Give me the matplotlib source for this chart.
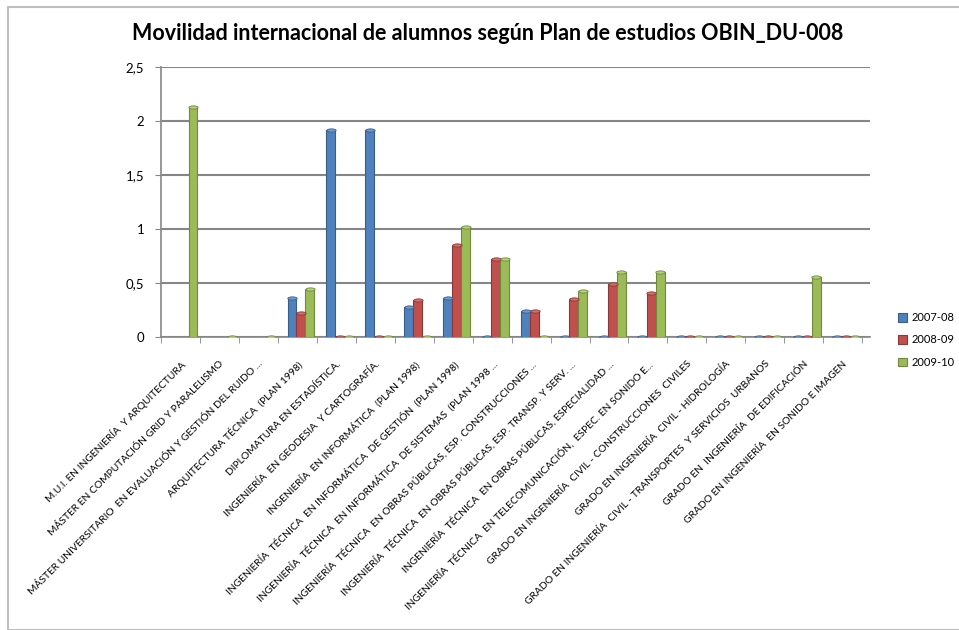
import matplotlib.pyplot as plt
import numpy as np
from matplotlib.path import Path
from matplotlib.patches import Rectangle

plt.rcParams['font.family'] = ['Lato', 'DejaVu Sans']

categories = [
    'M.U.I. EN INGENIERÍA  Y ARQUITECTURA',
    'MÁSTER EN COMPUTACIÓN GRID Y PARALELISMO',
    'MÁSTER UNIVERSITARIO  EN EVALUACIÓN Y GESTIÓN DEL RUIDO ...',
    'ARQUITECTURA TÉCNICA  (PLAN 1998)',
    'DIPLOMATURA EN ESTADÍSTICA.',
    'INGENIERÍA  EN GEODESIA  Y CARTOGRAFÍA.',
    'INGENIERÍA  EN INFORMÁTICA  (PLAN 1998)',
    'INGENIERÍA  TÉCNICA  EN INFORMÁTICA  DE GESTIÓN  (PLAN 1998)',
    'INGENIERÍA  TÉCNICA  EN INFORMÁTICA  DE SISTEMAS  (PLAN 1998 ...',
    'INGENIERÍA  TÉCNICA  EN OBRAS PÚBLICAS, ESP. CONSTRUCCIONES ...',
    'INGENIERÍA  TÉCNICA  EN OBRAS PÚBLICAS, ESP. TRANSP. Y SERV. ...',
    'INGENIERÍA  TÉCNICA  EN OBRAS PÚBLICAS, ESPECIALIDAD ...',
    'INGENIERÍA  TÉCNICA  EN TELECOMUNICACIÓN,  ESPEC. EN SONIDO E...',
    'GRADO EN INGENIERÍA  CIVIL - CONSTRUCCIONES  CIVILES',
    'GRADO EN INGENIERÍA  CIVIL - HIDROLOGÍA',
    'GRADO EN INGENIERÍA  CIVIL - TRANSPORTES  Y SERVICIOS  URBANOS',
    'GRADO EN  INGENIERÍA  DE EDIFICACIÓN',
    'GRADO EN INGENIERÍA  EN SONIDO E IMAGEN',
]
nan = np.nan
v2007 = [nan, nan, nan, 0.36, 1.92, 1.92, 0.28, 0.36, 0, 0.24, 0, 0, 0, 0, 0, 0, 0, 0]
v2008 = [nan, nan, nan, 0.22, 0, 0, 0.34, 0.85, 0.72, 0.24, 0.35, 0.49, 0.41, 0, 0, 0, 0, 0]
v2009 = [2.13, 0, 0, 0.44, 0, 0, 0, 1.02, 0.72, 0, 0.43, 0.60, 0.60, 0, 0, 0, 0.56, 0]
series = ['2007-08', '2008-09', '2009-10']
yticks = [0, 0.5, 1, 1.5, 2, 2.5]
ytick_labels = ['0', '0,5', '1', '1,5', '2', '2,5']

faces = ['#4F81BD', '#C0504D', '#9BBB59']
edges = ['#385D8A', '#8C3836', '#71893F']
tops = ['#6F9AD0', '#D36E6B', '#B3CF7A']

W, H = 959, 630
fig = plt.figure(figsize=(W / 100, H / 100), dpi=100)
fig.patches.append(Rectangle((8 / W, 0), 1.0, 1 - 7 / H, transform=fig.transFigure,
                             fill=False, edgecolor='#BFBFBF', linewidth=1.5))

ax = fig.add_axes([161 / W, 1 - 337 / H, (870 - 161) / W, (337 - 67) / H])

# flattened ellipse marker for the cylinder tops
t = np.linspace(0, 2 * np.pi, 40)
ellipse = Path(np.column_stack([np.cos(t), 0.35 * np.sin(t)]))

x = np.arange(len(categories))
width = 0.23
shift = 0.09
for i, vals in enumerate([v2007, v2008, v2009]):
    vals = np.array(vals, dtype=float)
    pos = x + shift + (i - 1) * width
    ax.bar(pos, vals, width=width * 0.98, color=faces[i], edgecolor=edges[i],
           linewidth=0.8, label=series[i], zorder=3)
    ok = ~np.isnan(vals)
    ax.scatter(pos[ok], vals[ok], marker=ellipse, s=45, color=tops[i],
               edgecolors=edges[i], linewidths=0.6, zorder=4)

ax.set_xlim(-0.5, len(categories) - 0.5 + 0.2)
ax.set_ylim(0, 2.5)
ax.set_yticks(yticks)
ax.set_yticklabels(ytick_labels, fontsize=9.5)
ax.yaxis.grid(True, color='#868686', linewidth=1.5, zorder=0)
ax.set_axisbelow(True)

ax.set_xticks(x)
ax.set_xticklabels(categories, rotation=45, ha='right', va='top',
                   rotation_mode='anchor', fontsize=7.4)
ax.set_xticks(np.arange(len(categories) + 1) - 0.5, minor=True)
ax.tick_params(axis='x', which='major', length=0, pad=16)
ax.tick_params(axis='x', which='minor', length=4, color='#868686')
ax.tick_params(axis='y', length=4, color='#868686', pad=8)

for s in ['top', 'right']:
    ax.spines[s].set_visible(False)
for s in ['left', 'bottom']:
    ax.spines[s].set_color('#868686')
    ax.spines[s].set_linewidth(1.2)

fig.text(488 / W, 1 - 33 / H,
         'Movilidad internacional de alumnos según Plan de estudios OBIN_DU-008',
         ha='center', va='center', fontsize=15.5, fontweight='bold')

fig.legend(loc='center left', bbox_to_anchor=(898 / W, 1 - 340 / H), frameon=False,
           fontsize=8, handlelength=0.8, handleheight=0.8, handletextpad=0.4,
           labelspacing=1.0, borderpad=0, borderaxespad=0)

fig.savefig('out.png', dpi=100)
